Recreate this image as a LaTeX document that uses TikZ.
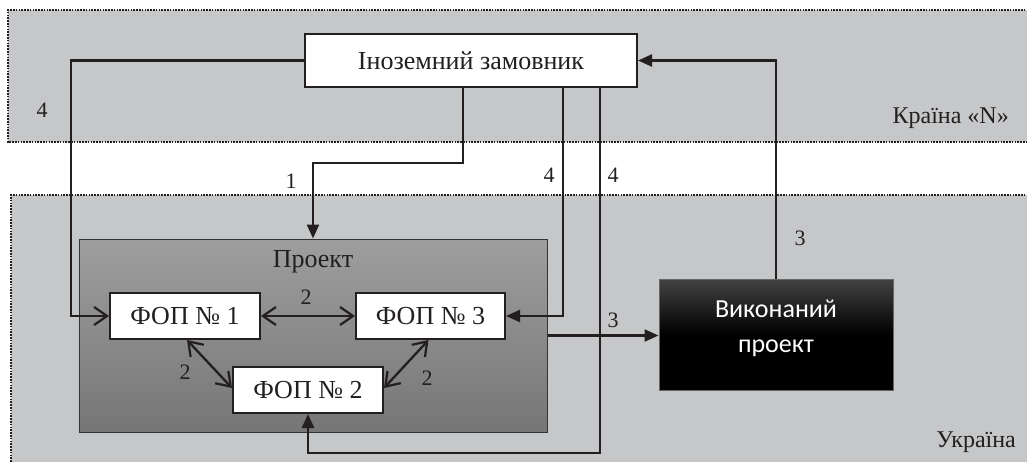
\documentclass[tikz,border=0pt]{standalone}
\usepackage{fontspec}
\setmainfont{Liberation Serif}
\newfontfamily\calibrifont{Carlito}
\usetikzlibrary{arrows.meta}
\definecolor{bandgray}{HTML}{C6C7C9}
\definecolor{txt}{HTML}{231F20}
\definecolor{projtop}{HTML}{9E9E9E}
\definecolor{projbot}{HTML}{767676}
\begin{document}
\begin{tikzpicture}[x=1pt,y=-1pt,
  every node/.style={text=txt, inner sep=0pt},
  band/.style={fill=bandgray},
  bandedge/.style={draw=txt, line width=1.6pt, dash pattern=on 1.6pt off 1.2pt},
  fopbox/.style={draw=txt, fill=white, line width=2pt, minimum width=150pt, minimum height=46pt, font=\fontsize{26}{30}\selectfont},
  conn/.style={draw=txt, line width=2.3pt},
  fa/.style={-{Triangle[length=14pt,width=12pt]}},
  oa/.style={-{Straight Barb[length=13pt,width=18pt,line width=2.2pt]}},
  oab/.style={{Straight Barb[length=13pt,width=18pt,line width=2.2pt]}-{Straight Barb[length=13pt,width=18pt,line width=2.2pt]}},
  lbl/.style={font=\fontsize{22}{26}\selectfont},
  region/.style={font=\fontsize{24}{28}\selectfont}
]
\useasboundingbox (0,0) rectangle (1027,461);
% bands
\fill[band] (8,10) rectangle (1045,142);
\draw[bandedge] (1045,10) -- (8,10) -- (8,142) -- (1045,142);
\fill[band] (11,195) rectangle (1045,470);
\draw[bandedge] (1045,195) -- (11,195) -- (11,470);
\node[region, anchor=east] (kraina) at (1009,118) {Країна «N»};
\node[region, anchor=east] (ukraina) at (1016,442) {Україна};
% main nodes
\node[draw=txt, fill=white, line width=2pt, minimum width=332pt, minimum height=53pt, font=\fontsize{26}{30}\selectfont] (zam) at (471,60.5) {Іноземний замовник};
\node[draw=black!80, line width=1pt, top color=projtop, bottom color=projbot, minimum width=468pt, minimum height=193pt] (proekt) at (313,335.5) {};
\node[font=\fontsize{26}{30}\selectfont] (proekttxt) at (313,262) {Проект};
\node[fopbox] (fop1) at (185,316) {ФОП № 1};
\node[fopbox, minimum width=149pt] (fop3) at (430.5,316) {ФОП № 3};
\node[fopbox] (fop2) at (308,390) {ФОП № 2};
\node[draw=black!60, line width=1pt, top color=black!74, bottom color=black, middle color=black, minimum width=234pt, minimum height=111pt] (vyk) at (776,334.5) {};
\node[text=white, align=center, font=\calibrifont\fontsize{26}{35}\selectfont] (vyktxt) at (776,328) {Виконаний\\проект};
% coordinates
\coordinate (k1) at (313,163);
\coordinate (k2) at (71,0);
\coordinate (k4) at (600,453);
% connectors
\draw[conn, fa] ([xshift=-8pt]zam.south) |- (k1) -- (k1 |- proekt.north);
\draw[conn, oa] (zam.west) -| (k2 |- fop1.west) -- (fop1.west);
\draw[conn, fa] ([xshift=92pt]zam.south) |- (fop3.east);
\draw[conn, fa] ([xshift=129pt]zam.south) -- (k4) -| (fop2.south);
\draw[conn, fa] (vyk.north) |- (zam.east);
\draw[conn, fa] (proekt.east) -- (proekt.east -| vyk.west);
\draw[conn, oab] (fop1.east) -- (fop3.west);
\draw[conn, oab] ([xshift=2pt]fop1.south) -- ([yshift=2pt]fop2.west);
\draw[conn, oab] ([xshift=-2pt]fop3.south) -- ([yshift=2pt]fop2.east);
% labels
\node[lbl] (l1) at (291,181) {1};
\node[lbl] (l4a) at (42,110) {4};
\node[lbl] (l4b) at (549,175) {4};
\node[lbl] (l4c) at (613,175) {4};
\node[lbl] (l3a) at (800,238) {3};
\node[lbl] (l3b) at (613,320) {3};
\node[lbl] (l2a) at (306,297) {2};
\node[lbl] (l2b) at (185,372) {2};
\node[lbl] (l2c) at (427,378) {2};
\end{tikzpicture}
\end{document}
